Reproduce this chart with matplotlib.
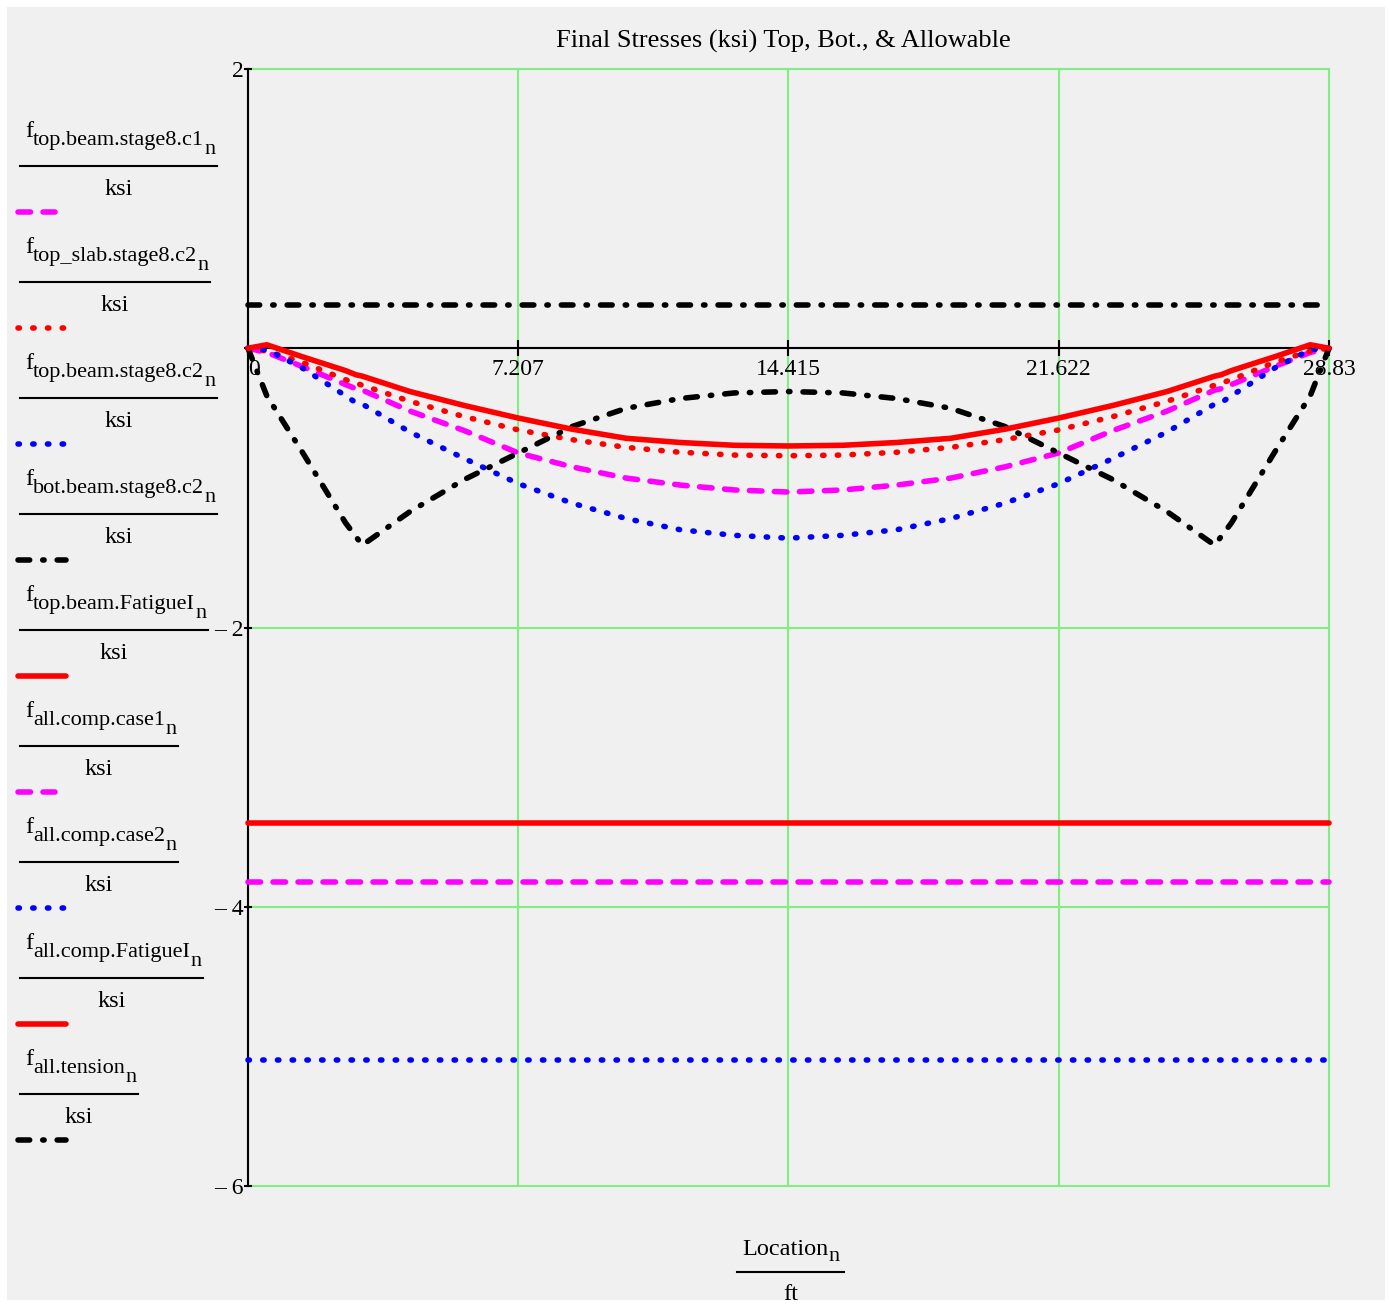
import matplotlib
matplotlib.use("Agg")
import matplotlib.pyplot as plt
from matplotlib.lines import Line2D
from matplotlib.patches import Rectangle

# stations along the span (ft)
location = [0, 0.5, 1.44, 2.6, 2.88, 3.05, 4.32, 5.77, 7.21, 8.65, 10.09, 11.53, 12.97, 14.415,
            15.86, 17.30, 18.74, 20.18, 21.62, 23.06, 24.51, 25.78, 25.95, 26.23, 27.39, 28.33, 28.83]

# stresses (ksi)
f_top_beam_c1 = [0, -0.03, -0.13, -0.26, -0.29, -0.30, -0.45, -0.59, -0.75, -0.85, -0.93, -0.98, -1.015, -1.03,
                 -1.015, -0.98, -0.93, -0.85, -0.75, -0.59, -0.45, -0.30, -0.29, -0.26, -0.13, -0.03, 0]
f_top_slab_c2 = [0, -0.02, -0.10, -0.225, -0.25, -0.265, -0.38, -0.49, -0.585, -0.655, -0.71, -0.745, -0.765, -0.77,
                 -0.765, -0.745, -0.71, -0.655, -0.585, -0.49, -0.38, -0.265, -0.25, -0.225, -0.10, -0.02, 0]
f_top_beam_c2 = [0, -0.01, -0.14, -0.34, -0.39, -0.40, -0.60, -0.79, -0.97, -1.11, -1.22, -1.30, -1.34, -1.36,
                 -1.34, -1.30, -1.22, -1.11, -0.97, -0.79, -0.60, -0.40, -0.39, -0.34, -0.14, -0.01, 0]
f_bot_beam_c2 = [0, -0.34, -0.74, -1.25, -1.35, -1.41, -1.17, -0.94, -0.75, -0.56, -0.43, -0.36, -0.32, -0.31,
                 -0.32, -0.36, -0.43, -0.56, -0.75, -0.94, -1.17, -1.41, -1.35, -1.25, -0.74, -0.34, 0]
f_top_beam_fat = [0, 0.025, -0.06, -0.16, -0.19, -0.20, -0.31, -0.41, -0.50, -0.58, -0.645, -0.675, -0.695, -0.70,
                  -0.695, -0.675, -0.645, -0.58, -0.50, -0.41, -0.31, -0.20, -0.19, -0.16, -0.06, 0.025, 0]

# allowables (ksi), constant along the span
f_all_case1 = -3.825
f_all_case2 = -5.1
f_all_fatigue = -3.4
f_all_tension = 0.31

xticks = [0, 7.207, 14.415, 21.622, 28.83]
xtick_labels = ["0", "7.207", "14.415", "21.622", "28.83"]
yticks = [-6, -4, -2, 0, 2]
ytick_labels = ["\u2013 6", "\u2013 4", "\u2013 2", "", "2"]

legend_subs = ["top.beam.stage8.c1", "top_slab.stage8.c2", "top.beam.stage8.c2", "bot.beam.stage8.c2",
               "top.beam.FatigueI", "all.comp.case1", "all.comp.case2", "all.comp.FatigueI", "all.tension"]

BG = "#f0f0f0"
GRID = "#80ee80"
FONT = "Liberation Serif"
LW = 4
DASH = (0, (2.25, 2.25))
DOT = (0, (0.25, 2.4))
DASHDOT = (0, (2.1, 2.35, 0.25, 2.35))

styles = [
    dict(color="#ff00ff", linestyle=DASH),
    dict(color="#ff0000", linestyle=DOT),
    dict(color="#0000ff", linestyle=DOT),
    dict(color="#000000", linestyle=DASHDOT),
    dict(color="#ff0000", linestyle="-"),
    dict(color="#ff00ff", linestyle=DASH),
    dict(color="#0000ff", linestyle=DOT),
    dict(color="#ff0000", linestyle="-"),
    dict(color="#000000", linestyle=DASHDOT),
]
sample_ends = [55, 64, 64, 66, 66, 55, 64, 66, 66]

W, H = 1390, 1304
fig = plt.figure(figsize=(W / 100, H / 100), dpi=100, facecolor="white")
fig.patches.append(Rectangle((7 / W, 4 / H), 1378 / W, 1293 / H, transform=fig.transFigure,
                             facecolor=BG, edgecolor="none", zorder=-10))


def fx(x):
    return x / W


def fy(y):
    return 1 - y / H


ax = fig.add_axes([fx(248), fy(1186), (1329 - 248) / W, (1186 - 69) / H])
ax.set_facecolor(BG)
ax.set_xlim(0, 28.83)
ax.set_ylim(-6, 2)

for s in ["top", "right"]:
    ax.spines[s].set_visible(False)
ax.spines["bottom"].set_position(("data", 0))
ax.spines["left"].set_position(("data", 0))
for s in ["bottom", "left"]:
    ax.spines[s].set_linewidth(1.5)
    ax.spines[s].set_zorder(2.5)

ax.set_xticks(xticks, xtick_labels)
ax.set_yticks(yticks, ytick_labels)
ax.tick_params(axis="x", direction="inout", length=11, width=1.5, pad=2, labelsize=17)
ax.tick_params(axis="y", direction="inout", length=6, width=1.5, pad=0, labelsize=17)
for lab in ax.get_xticklabels() + ax.get_yticklabels():
    lab.set_fontfamily(FONT)
ax.xaxis.get_major_ticks()[0].label1.set_horizontalalignment("left")
ax.grid(True, color=GRID, linewidth=1.5)
ax.set_axisbelow(True)
for gl in ax.get_xgridlines() + ax.get_ygridlines():
    gl.set_clip_on(False)

curves = [f_top_beam_c1, f_top_slab_c2, f_top_beam_c2, f_bot_beam_c2, f_top_beam_fat]
for vals, st in zip(curves, styles[:5]):
    ax.plot(location, vals, lw=LW, dash_capstyle="round", solid_capstyle="round",
            clip_on=False, zorder=3, **st)

allowables = [f_all_case1, f_all_case2, f_all_fatigue, f_all_tension]
for val, st in zip(allowables, styles[5:]):
    ax.plot([location[0], location[-1]], [val, val], lw=LW, dash_capstyle="round",
            solid_capstyle="round", clip_on=False, zorder=3, **st)

fig.text(fx(783), fy(41), "Final Stresses (ksi) Top, Bot., & Allowable", ha="center", va="center",
         fontsize=19, family=FONT)

renderer = fig.canvas.get_renderer()


def width_px(t):
    return t.get_window_extent(renderer).width


# legend drawn as Mathcad style fractions
for i, (sub, st) in enumerate(zip(legend_subs, styles)):
    yl = 166 + 116 * i
    x = 25
    t = fig.text(fx(x), fy(yl - 29), "f", fontsize=17.5, family=FONT, va="baseline")
    x += width_px(t)
    t = fig.text(fx(x), fy(yl - 21), sub, fontsize=16, family=FONT, va="baseline")
    x += width_px(t)
    t = fig.text(fx(x), fy(yl - 12), "n", fontsize=16, family=FONT, va="baseline")
    x += width_px(t)
    x_end = x + 2
    fig.add_artist(Line2D([fx(20), fx(x_end)], [fy(yl), fy(yl)], transform=fig.transFigure,
                          color="black", lw=1.5))
    fig.text(fx((20 + x_end) / 2), fy(yl + 29), "ksi", fontsize=17.5, family=FONT,
             ha="center", va="baseline")
    fig.add_artist(Line2D([fx(18), fx(sample_ends[i])], [fy(yl + 46), fy(yl + 46)],
                          transform=fig.transFigure, lw=LW, dash_capstyle="round",
                          solid_capstyle="round", **st))

# x axis label as fraction
t1 = fig.text(0, 0, "Location", fontsize=17.5, family=FONT, va="baseline")
t2 = fig.text(0, 0, "n", fontsize=16, family=FONT, va="baseline")
w1, w2 = width_px(t1), width_px(t2)
x0 = 790.5 - (w1 + w2) / 2
t1.set_position((fx(x0), fy(1255)))
t2.set_position((fx(x0 + w1), fy(1261)))
fig.add_artist(Line2D([fx(x0 - 5), fx(x0 + w1 + w2 + 5)], [fy(1272), fy(1272)],
                      transform=fig.transFigure, color="black", lw=1.5))
fig.text(fx(790.5), fy(1300), "ft", fontsize=17.5, family=FONT, ha="center", va="baseline")

fig.savefig("out.png", dpi=100, facecolor="white")
